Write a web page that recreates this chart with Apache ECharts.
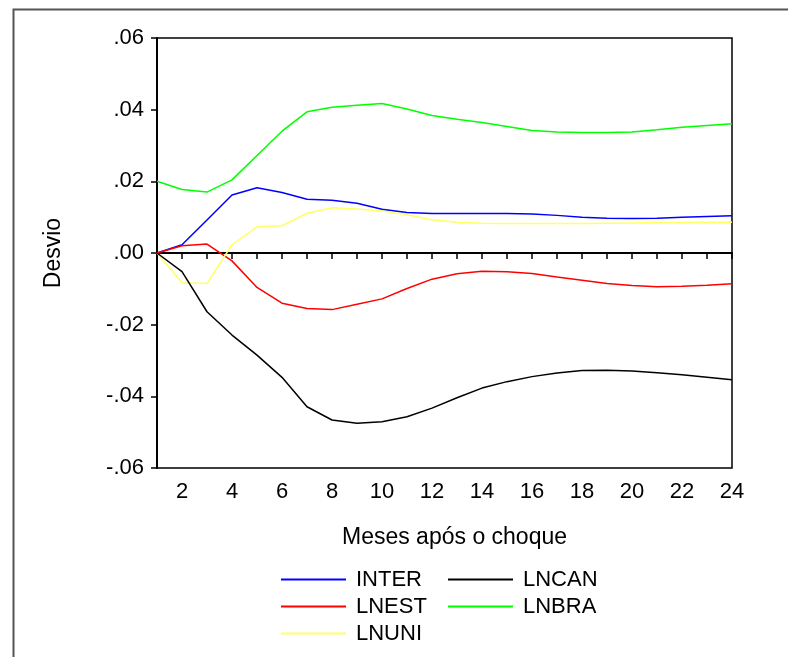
<!DOCTYPE html>
<html><head><meta charset="utf-8">
<script src="https://cdn.jsdelivr.net/npm/echarts@6/dist/echarts.min.js"></script>
<style>html,body{margin:0;padding:0;background:#fff}#c{width:788px;height:657px}</style>
</head><body><div id="c"></div>
<script>
const months = [1,2,3,4,5,6,7,8,9,10,11,12,13,14,15,16,17,18,19,20,21,22,23,24];
const INTER = [0,0.0023,0.0092,0.0162,0.0182,0.0169,0.0150,0.0147,0.0139,0.0122,0.0113,0.0110,0.0110,0.0110,0.0110,0.0109,0.0105,0.0100,0.0097,0.0096,0.0097,0.0100,0.0102,0.0104];
const LNEST = [0,0.0020,0.0025,-0.0022,-0.0096,-0.0140,-0.0155,-0.0158,-0.0143,-0.0128,-0.0099,-0.0073,-0.0058,-0.0051,-0.0052,-0.0057,-0.0067,-0.0076,-0.0085,-0.0091,-0.0094,-0.0093,-0.0090,-0.0086];
const LNUNI = [0,-0.0083,-0.0085,0.0023,0.0073,0.0076,0.0111,0.0126,0.0123,0.0117,0.0107,0.0093,0.0086,0.0083,0.0082,0.0082,0.0082,0.0082,0.0083,0.0084,0.0085,0.0085,0.0086,0.0086];
const LNCAN = [0,-0.0052,-0.0164,-0.0229,-0.0285,-0.0347,-0.0429,-0.0466,-0.0475,-0.0471,-0.0457,-0.0433,-0.0404,-0.0377,-0.0359,-0.0345,-0.0335,-0.0328,-0.0327,-0.0329,-0.0334,-0.0340,-0.0347,-0.0354];
const LNBRA = [0.0200,0.0177,0.0170,0.0204,0.0272,0.0340,0.0394,0.0407,0.0412,0.0417,0.0402,0.0384,0.0373,0.0364,0.0353,0.0342,0.0338,0.0336,0.0336,0.0338,0.0344,0.0351,0.0356,0.0361];
const names = ['INTER','LNEST','LNUNI','LNCAN','LNBRA'];
const values = [INTER, LNEST, LNUNI, LNCAN, LNBRA];
const colors = ['#0000ff','#ff0000','#ffff66','#000000','#00ff00'];
const FONT = '"Liberation Sans", Arial, sans-serif';

const chart = echarts.init(document.getElementById('c'), null, {renderer:'canvas'});
const series = names.map((n,i)=>({
  name:n, type:'line', symbol:'none', smooth:false,
  data: months.map((m,j)=>[m, values[i][j]]),
  lineStyle:{color:colors[i], width:1.5}, itemStyle:{color:colors[i]},
  z: 3
}));
series[0].markLine = {silent:true, symbol:'none', label:{show:false},
  lineStyle:{color:'#000', width:1.2, type:'solid'}, data:[{yAxis:0}], z:2};
const legendBase = {orient:'vertical', icon:'rect', itemWidth:65, itemHeight:2, itemGap:0, padding:0,
  textStyle:{fontFamily:FONT, fontSize:22, color:'#000', lineHeight:27, padding:[0,0,0,5]}};
chart.setOption({
  animation:false,
  backgroundColor:'#fff',
  grid:{left:157, top:38, right:56, bottom:189, show:true, borderColor:'#000', borderWidth:1.5, containLabel:false},
  xAxis:{type:'value', min:1, max:24, interval:1,
    name:'Meses após o choque', nameLocation:'middle', nameGap:58,
    nameTextStyle:{fontFamily:FONT, fontSize:23, color:'#000', padding:[0,0,0,20]},
    axisLine:{lineStyle:{color:'#000', width:2}},
    axisTick:{length:6, lineStyle:{color:'#000', width:1.5}},
    splitLine:{show:false},
    axisLabel:{fontFamily:FONT, fontSize:22, color:'#000', margin:13,
      formatter:v=> (v%2===0 ? String(v) : '')}},
  yAxis:{type:'value', min:-0.06, max:0.06, interval:0.02,
    name:'Desvio', nameLocation:'middle', nameGap:92,
    nameTextStyle:{fontFamily:FONT, fontSize:23, color:'#000'},
    axisLine:{lineStyle:{color:'#000', width:2}},
    axisTick:{length:6, lineStyle:{color:'#000', width:1.5}},
    splitLine:{show:false},
    axisLabel:{fontFamily:FONT, fontSize:22, color:'#000', margin:13,
      formatter:v=>{ const s=(Math.round(v*100)/100).toFixed(2); return s.replace('0.','.'); }}},
  legend:[
    Object.assign({}, legendBase, {left:281, top:566, data:['INTER','LNEST','LNUNI']}),
    Object.assign({}, legendBase, {left:448, top:566, data:['LNCAN','LNBRA']})
  ],
  graphic:[{type:'rect', left:11, top:7, shape:{width:900, height:900},
    style:{fill:'none', stroke:'#555', lineWidth:2}, silent:true, z:-1}],
  series: series
});
</script></body></html>
